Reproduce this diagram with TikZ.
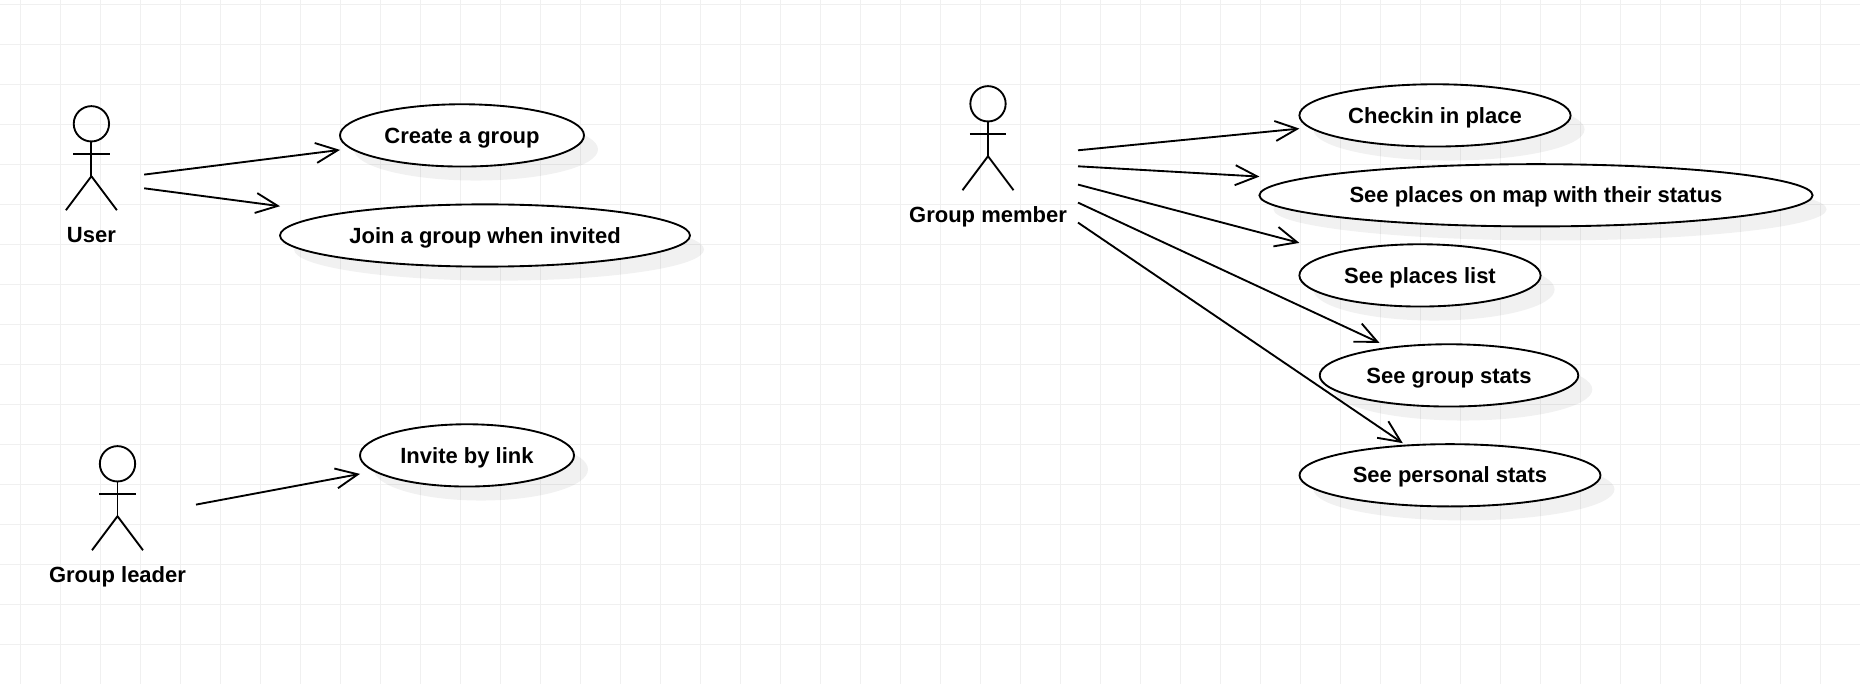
\documentclass[tikz,border=0pt]{standalone}
\usepackage{fontspec}
\setmainfont{Liberation Sans}
\usetikzlibrary{arrows.meta,calc,shadows,shapes.geometric}
\definecolor{gridline}{HTML}{F0F0F0}
\tikzset{
  x=0.75pt,y=-0.75pt,
  gridrule/.style={draw=gridline,line width=0.75pt},
  strokeline/.style={draw=black,line width=1.4pt},
  labeltext/.style={font=\fontsize{16.5pt}{19pt}\selectfont\bfseries,text=black,text height=11.5pt,text depth=0pt,inner sep=0pt,outer sep=0pt},
  usecase/.style={ellipse,strokeline,fill=white,labeltext,minimum height=46.7pt,minimum width=#1*1.5pt,
    general shadow={fill=black,opacity=0.055,shadow xshift=10.5pt,shadow yshift=-10.5pt}},
  assoc/.style={strokeline,-{Straight Barb[length=16.5pt,width=15pt]}},
  pics/stickfigure/.style={code={
    \node[circle,strokeline,minimum size=26.5pt,inner sep=0pt,outer sep=0pt] (-head) at (0,0) {};
    \coordinate (-hip) at (0,52.4);
    \coordinate (-armL) at (-18.2,30.4);
    \coordinate (-armR) at (18.2,30.4);
    \coordinate (-footL) at (-25.5,86.4);
    \coordinate (-footR) at (25.5,86.4);
    \draw[strokeline] (-head.south) -- (-hip);
    \draw[strokeline] (-armL) -- (-armR);
    \draw[strokeline,line join=round] (-footL) -- (-hip) -- (-footR);
    \node[labeltext] (-label) at (0,111.5) {#1};
  }}
}
\begin{document}
\begin{tikzpicture}
\useasboundingbox (0,0) rectangle (1860,684);
\fill[white] (0,0) rectangle (1860,684);
\foreach \gx in {20,60,...,1860} \draw[gridrule] (\gx,0) -- (\gx,684);
\foreach \gy in {4.5,44.5,...,684} \draw[gridrule] (0,\gy) -- (1860,\gy);

% actors
\pic (user) at (91.4,123.8) {stickfigure={User}};
\pic (leader) at (117.5,463.8) {stickfigure={Group leader}};
\pic (member) at (988,103.8) {stickfigure={Group member}};

% use cases
\node[usecase=122] (create) at (462,135.4) {Create a group};
\node[usecase=205] (join) at (485,235.5) {Join a group when invited};
\node[usecase=107] (invite) at (467,455.4) {Invite by link};
\node[usecase=135.6] (checkin) at (1435,115.4) {Checkin in place};
\node[usecase=276.6] (map) at (1536,195.3) {See places on map with their status};
\node[usecase=120.6] (list) at (1420,275.4) {See places list};
\node[usecase=129.3] (gstats) at (1449,375.4) {See group stats};
\node[usecase=150.5] (pstats) at (1450,475.3) {See personal stats};

% free connector starts
\coordinate (userA) at (144.2,174.6);
\coordinate (userB) at (144.2,188.3);
\coordinate (leaderA) at (196,504.6);
\coordinate (memberA) at (1078,150.3);
\coordinate (memberB) at (1078,166.3);
\coordinate (memberC) at (1078,184.6);
\coordinate (memberD) at (1078,202.6);
\coordinate (memberE) at (1078,222.6);

% connectors
\draw[assoc] (userA) -- ($(create.west)+(0,14.5)$);
\draw[assoc] (userB) -- ($(join.west)+(0,-29.3)$);
\draw[assoc] (leaderA) -- ($(invite.west)+(0,18.5)$);
\draw[assoc] (memberA) -- ($(checkin.west)+(0,13.2)$);
\draw[assoc] (memberB) -- ($(map.west)+(0,-18.7)$);
\draw[assoc] (memberC) -- ($(list.west)+(0,-32.5)$);
\draw[assoc] (memberD) -- ($(gstats.north)+(-69.5,-1.4)$);
\draw[assoc] (memberE) -- ($(pstats.north)+(-47.2,-1)$);
\end{tikzpicture}
\end{document}
